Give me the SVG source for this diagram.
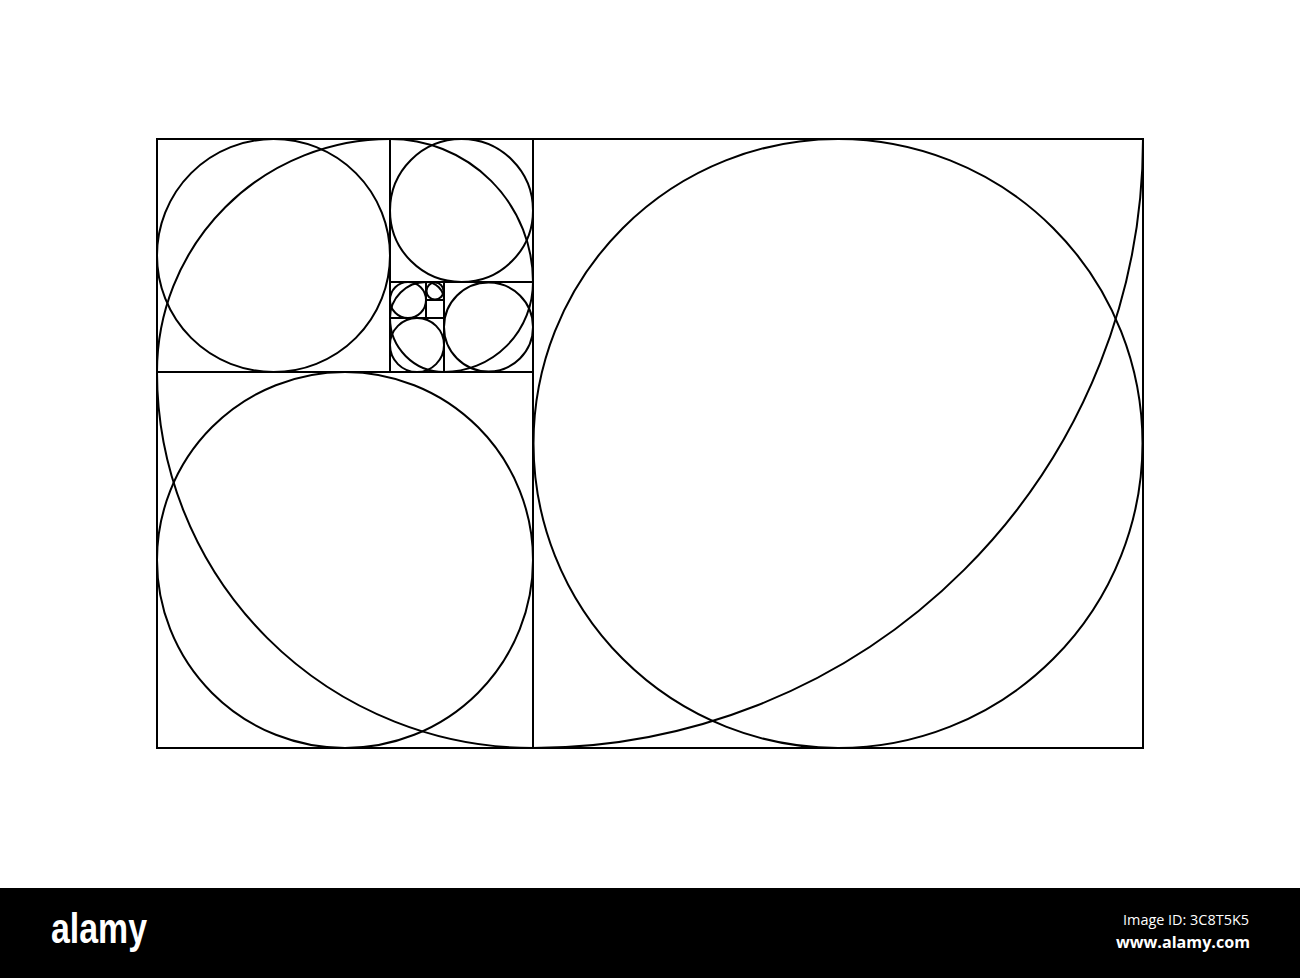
<svg xmlns="http://www.w3.org/2000/svg" width="1300" height="978" viewBox="0 0 1300 978">
<style>
.ln{fill:none;stroke:#000;stroke-width:2;stroke-linejoin:miter}
.logo{font-family:"Liberation Sans",Arial,sans-serif;font-weight:bold;fill:#fff}
.cap{font-family:"Open Sans","DejaVu Sans",sans-serif;fill:#fff}
</style>
<rect x="0" y="0" width="1300" height="978" fill="#fff"/>
<g id="frame">
<rect class="ln" x="157" y="139" width="986" height="609"/>
<line class="ln" x1="533" y1="139" x2="533" y2="748"/>
<line class="ln" x1="157" y1="372" x2="533" y2="372"/>
<line class="ln" x1="390" y1="139" x2="390" y2="372"/>
<line class="ln" x1="390" y1="282" x2="533" y2="282"/>
<line class="ln" x1="444" y1="282" x2="444" y2="372"/>
<line class="ln" x1="390" y1="318" x2="444" y2="318"/>
<line class="ln" x1="426" y1="282" x2="426" y2="318"/>
<line class="ln" x1="426" y1="300" x2="444" y2="300"/>
</g>
<g id="circles">
<circle class="ln" cx="838" cy="443.5" r="304.5"/>
<circle class="ln" cx="345" cy="560" r="188"/>
<circle class="ln" cx="273.5" cy="255.5" r="116.5"/>
<circle class="ln" cx="461.5" cy="210.5" r="71.5"/>
<circle class="ln" cx="488.5" cy="327" r="44.5"/>
<circle class="ln" cx="417" cy="345" r="27"/>
<circle class="ln" cx="408" cy="300" r="18"/>
<circle class="ln" cx="435" cy="291" r="8.5"/>
</g>
<g id="spiral">
<path class="ln" d="M1143 139 A610 609 0 0 1 533 748 A376 376 0 0 1 157 372 A233 233 0 0 1 390 139 A143 143 0 0 1 533 282 A89 90 0 0 1 444 372 A54 54 0 0 1 390 318 A36 36 0 0 1 426 282 A18 18 0 0 1 444 300"/>
</g>
<g id="banner">
<rect x="0" y="888" width="1300" height="90" fill="#000"/>
<text class="logo" x="51" y="943" font-size="42" textLength="96" lengthAdjust="spacingAndGlyphs">alamy</text>
<text class="cap" x="1123" y="925" font-size="14" textLength="126" lengthAdjust="spacingAndGlyphs">Image ID: 3C8T5K5</text>
<text class="cap" x="1116" y="948" font-size="16" font-weight="bold" textLength="134" lengthAdjust="spacingAndGlyphs">www.alamy.com</text>
</g>
</svg>
